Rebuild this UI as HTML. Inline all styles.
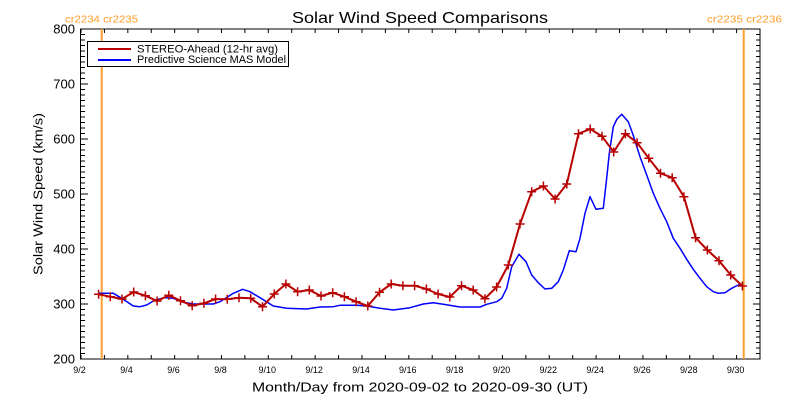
<!DOCTYPE html>
<html>
<head>
<meta charset="utf-8">
<style>
  html,body{margin:0;padding:0;background:#fff;}
  svg{display:block;}
  text{font-family:"Liberation Sans", sans-serif;fill:#000;}
</style>
</head>
<body>
<svg width="800" height="400" viewBox="0 0 800 400" xmlns="http://www.w3.org/2000/svg">
  <rect x="0" y="0" width="800" height="400" fill="#fff"/>

  <text x="420" y="23" font-size="16" text-anchor="middle" textLength="256" lengthAdjust="spacingAndGlyphs">Solar Wind Speed Comparisons</text>

  <text x="65" y="22.5" font-size="10" style="fill:#ff9e2c" textLength="73" lengthAdjust="spacingAndGlyphs">cr2234 cr2235</text>
  <text x="707" y="22.5" font-size="10" style="fill:#ff9e2c" textLength="75" lengthAdjust="spacingAndGlyphs">cr2235 cr2236</text>

  <rect x="80.5" y="29" width="679.5" height="330" fill="none" stroke="#000" stroke-width="1"/>

  <line x1="83" y1="359.5" x2="83" y2="28" stroke="#000" stroke-width="4" stroke-dasharray="1 4.5"/>
  <line x1="84.5" y1="359.5" x2="84.5" y2="28" stroke="#000" stroke-width="7" stroke-dasharray="1 54"/>
  <line x1="758" y1="359.5" x2="758" y2="28" stroke="#000" stroke-width="4" stroke-dasharray="1 4.5"/>
  <line x1="756.5" y1="359.5" x2="756.5" y2="28" stroke="#000" stroke-width="7" stroke-dasharray="1 54"/>
  <line x1="80.5" y1="357" x2="762" y2="357" stroke="#000" stroke-width="4" stroke-dasharray="1 22.414"/>
  <line x1="80.5" y1="31" x2="762" y2="31" stroke="#000" stroke-width="4" stroke-dasharray="1 22.414"/>

  <g font-size="13" text-anchor="end">
    <text x="75" y="363.5">200</text>
    <text x="75" y="308.5">300</text>
    <text x="75" y="253.5">400</text>
    <text x="75" y="198.5">500</text>
    <text x="75" y="143.5">600</text>
    <text x="75" y="88.5">700</text>
    <text x="75" y="33.5">800</text>
  </g>

  <g font-size="9" text-anchor="middle">
    <text x="79.5" y="373">9/2</text>
    <text x="126.5" y="373">9/4</text>
    <text x="173.5" y="373">9/6</text>
    <text x="220.5" y="373">9/8</text>
    <text x="267.3" y="373">9/10</text>
    <text x="314.1" y="373">9/12</text>
    <text x="361" y="373">9/14</text>
    <text x="407.8" y="373">9/16</text>
    <text x="454.6" y="373">9/18</text>
    <text x="501.5" y="373">9/20</text>
    <text x="548.3" y="373">9/22</text>
    <text x="595.1" y="373">9/24</text>
    <text x="642" y="373">9/26</text>
    <text x="688.8" y="373">9/28</text>
    <text x="735.6" y="373">9/30</text>
  </g>

  <text x="420" y="391.5" font-size="12.5" text-anchor="middle" textLength="336" lengthAdjust="spacingAndGlyphs">Month/Day from 2020-09-02 to 2020-09-30 (UT)</text>
  <text transform="translate(42.5,194) rotate(-90)" x="0" y="0" font-size="12.5" text-anchor="middle" textLength="162" lengthAdjust="spacingAndGlyphs">Solar Wind Speed (km/s)</text>

  <line x1="101.7" y1="29" x2="101.7" y2="359" stroke="#ff9e2c" stroke-width="2"/>
  <line x1="743.7" y1="29" x2="743.7" y2="359" stroke="#ff9e2c" stroke-width="2"/>

  <polyline fill="none" stroke="#0000ff" stroke-width="1.5" stroke-linejoin="round" points="98.3,293.3 113.3,293.3 121.7,298.3 133.3,306 140,306.7 146.7,305 155,300 165,297.7 173.3,298.3 183.3,302.3 193.3,304 213.3,304 220,301.7 233.3,293.3 242.7,289.3 250,291.7 260,297.7 273.3,306 286.7,308.3 306.7,309 320,307 333.3,306.7 340,305.3 356.7,305.3 366.7,306 380,308.3 393.3,310 410,307.7 423.3,304 433.3,302.7 443.3,304.3 460,307 480,307 486.7,304.3 496.7,301.7 501.7,298.3 506.7,288.3 511.7,266.7 519,254.3 526,261.7 531.7,275 538.3,282.7 545,289 551.7,288.3 558.3,281.7 563.3,270 569.3,250.7 576,251.7 580,238.3 585,213.3 590,196.7 596,209.3 603.3,208.3 606.7,178 609.3,153.3 613.3,126.7 617,119 621.7,114.3 628.3,121.7 633.3,135.5 640,156.7 646.7,175 653.3,193.3 660,208.3 666.7,221.7 673.3,238.3 680,248.3 686.7,259.3 693.3,269.3 700,278.3 706.7,286.7 713.3,291.7 718.3,293.3 725,292.7 731.7,288.3 738.3,285 743.3,285"/>

  <polyline fill="none" stroke="#b80000" stroke-width="2" stroke-linejoin="round" points="98.6,294.3 110.3,296.7 122,299 133.7,292 145.4,295.7 157.1,301 168.8,295.3 180.5,300.7 192.2,305.7 203.9,303.3 215.6,299 227.3,299.3 239,297.7 250.7,298.3 262.5,306.7 274.2,294 285.9,284 297.6,291.7 309.3,290 321,296 332.7,292.7 344.4,296.7 356.1,301.7 367.8,306 379.5,292.3 391.2,284 402.9,285.7 414.6,285.7 426.4,289 438.1,294 449.8,297 461.5,285.7 473.2,290 484.9,298.7 496.6,287 508.3,265 520,224 531.7,191.7 543.4,186 555.1,199 566.8,184 578.5,133.7 590.2,129 602,136.3 613.7,152 625.4,133.7 637.1,142.7 648.8,158.3 660.5,173.3 672.2,177.7 683.9,196.7 695.6,237.7 707.3,250 719,260.7 730.7,275 742.4,286"/>

  <path fill="none" stroke="#b80000" stroke-width="1.5" d="M94.1,294.3h9M98.6,289.8v9 M105.8,296.7h9M110.3,292.2v9 M117.5,299h9M122,294.5v9 M129.2,292h9M133.7,287.5v9 M140.9,295.7h9M145.4,291.2v9 M152.6,301h9M157.1,296.5v9 M164.3,295.3h9M168.8,290.8v9 M176,300.7h9M180.5,296.2v9 M187.7,305.7h9M192.2,301.2v9 M199.4,303.3h9M203.9,298.8v9 M211.1,299h9M215.6,294.5v9 M222.8,299.3h9M227.3,294.8v9 M234.5,297.7h9M239,293.2v9 M246.2,298.3h9M250.7,293.8v9 M258,306.7h9M262.5,302.2v9 M269.7,294h9M274.2,289.5v9 M281.4,284h9M285.9,279.5v9 M293.1,291.7h9M297.6,287.2v9 M304.8,290h9M309.3,285.5v9 M316.5,296h9M321,291.5v9 M328.2,292.7h9M332.7,288.2v9 M339.9,296.7h9M344.4,292.2v9 M351.6,301.7h9M356.1,297.2v9 M363.3,306h9M367.8,301.5v9 M375,292.3h9M379.5,287.8v9 M386.7,284h9M391.2,279.5v9 M398.4,285.7h9M402.9,281.2v9 M410.1,285.7h9M414.6,281.2v9 M421.9,289h9M426.4,284.5v9 M433.6,294h9M438.1,289.5v9 M445.3,297h9M449.8,292.5v9 M457,285.7h9M461.5,281.2v9 M468.7,290h9M473.2,285.5v9 M480.4,298.7h9M484.9,294.2v9 M492.1,287h9M496.6,282.5v9 M503.8,265h9M508.3,260.5v9 M515.5,224h9M520,219.5v9 M527.2,191.7h9M531.7,187.2v9 M538.9,186h9M543.4,181.5v9 M550.6,199h9M555.1,194.5v9 M562.3,184h9M566.8,179.5v9 M574,133.7h9M578.5,129.2v9 M585.7,129h9M590.2,124.5v9 M597.5,136.3h9M602,131.8v9 M609.2,152h9M613.7,147.5v9 M620.9,133.7h9M625.4,129.2v9 M632.6,142.7h9M637.1,138.2v9 M644.3,158.3h9M648.8,153.8v9 M656,173.3h9M660.5,168.8v9 M667.7,177.7h9M672.2,173.2v9 M679.4,196.7h9M683.9,192.2v9 M691.1,237.7h9M695.6,233.2v9 M702.8,250h9M707.3,245.5v9 M714.5,260.7h9M719,256.2v9 M726.2,275h9M730.7,270.5v9 M737.9,286h9M742.4,281.5v9"/>

  <rect x="87.5" y="41.5" width="201" height="25" fill="#fff" stroke="#000" stroke-width="1"/>
  <line x1="98" y1="49" x2="131" y2="49" stroke="#b80000" stroke-width="2"/>
  <line x1="98" y1="60" x2="131" y2="60" stroke="#0000ff" stroke-width="2"/>
  <text x="137" y="52.5" font-size="11" textLength="141" lengthAdjust="spacingAndGlyphs">STEREO-Ahead (12-hr avg)</text>
  <text x="137" y="63" font-size="11" textLength="149" lengthAdjust="spacingAndGlyphs">Predictive Science MAS Model</text>
</svg>
</body>
</html>
